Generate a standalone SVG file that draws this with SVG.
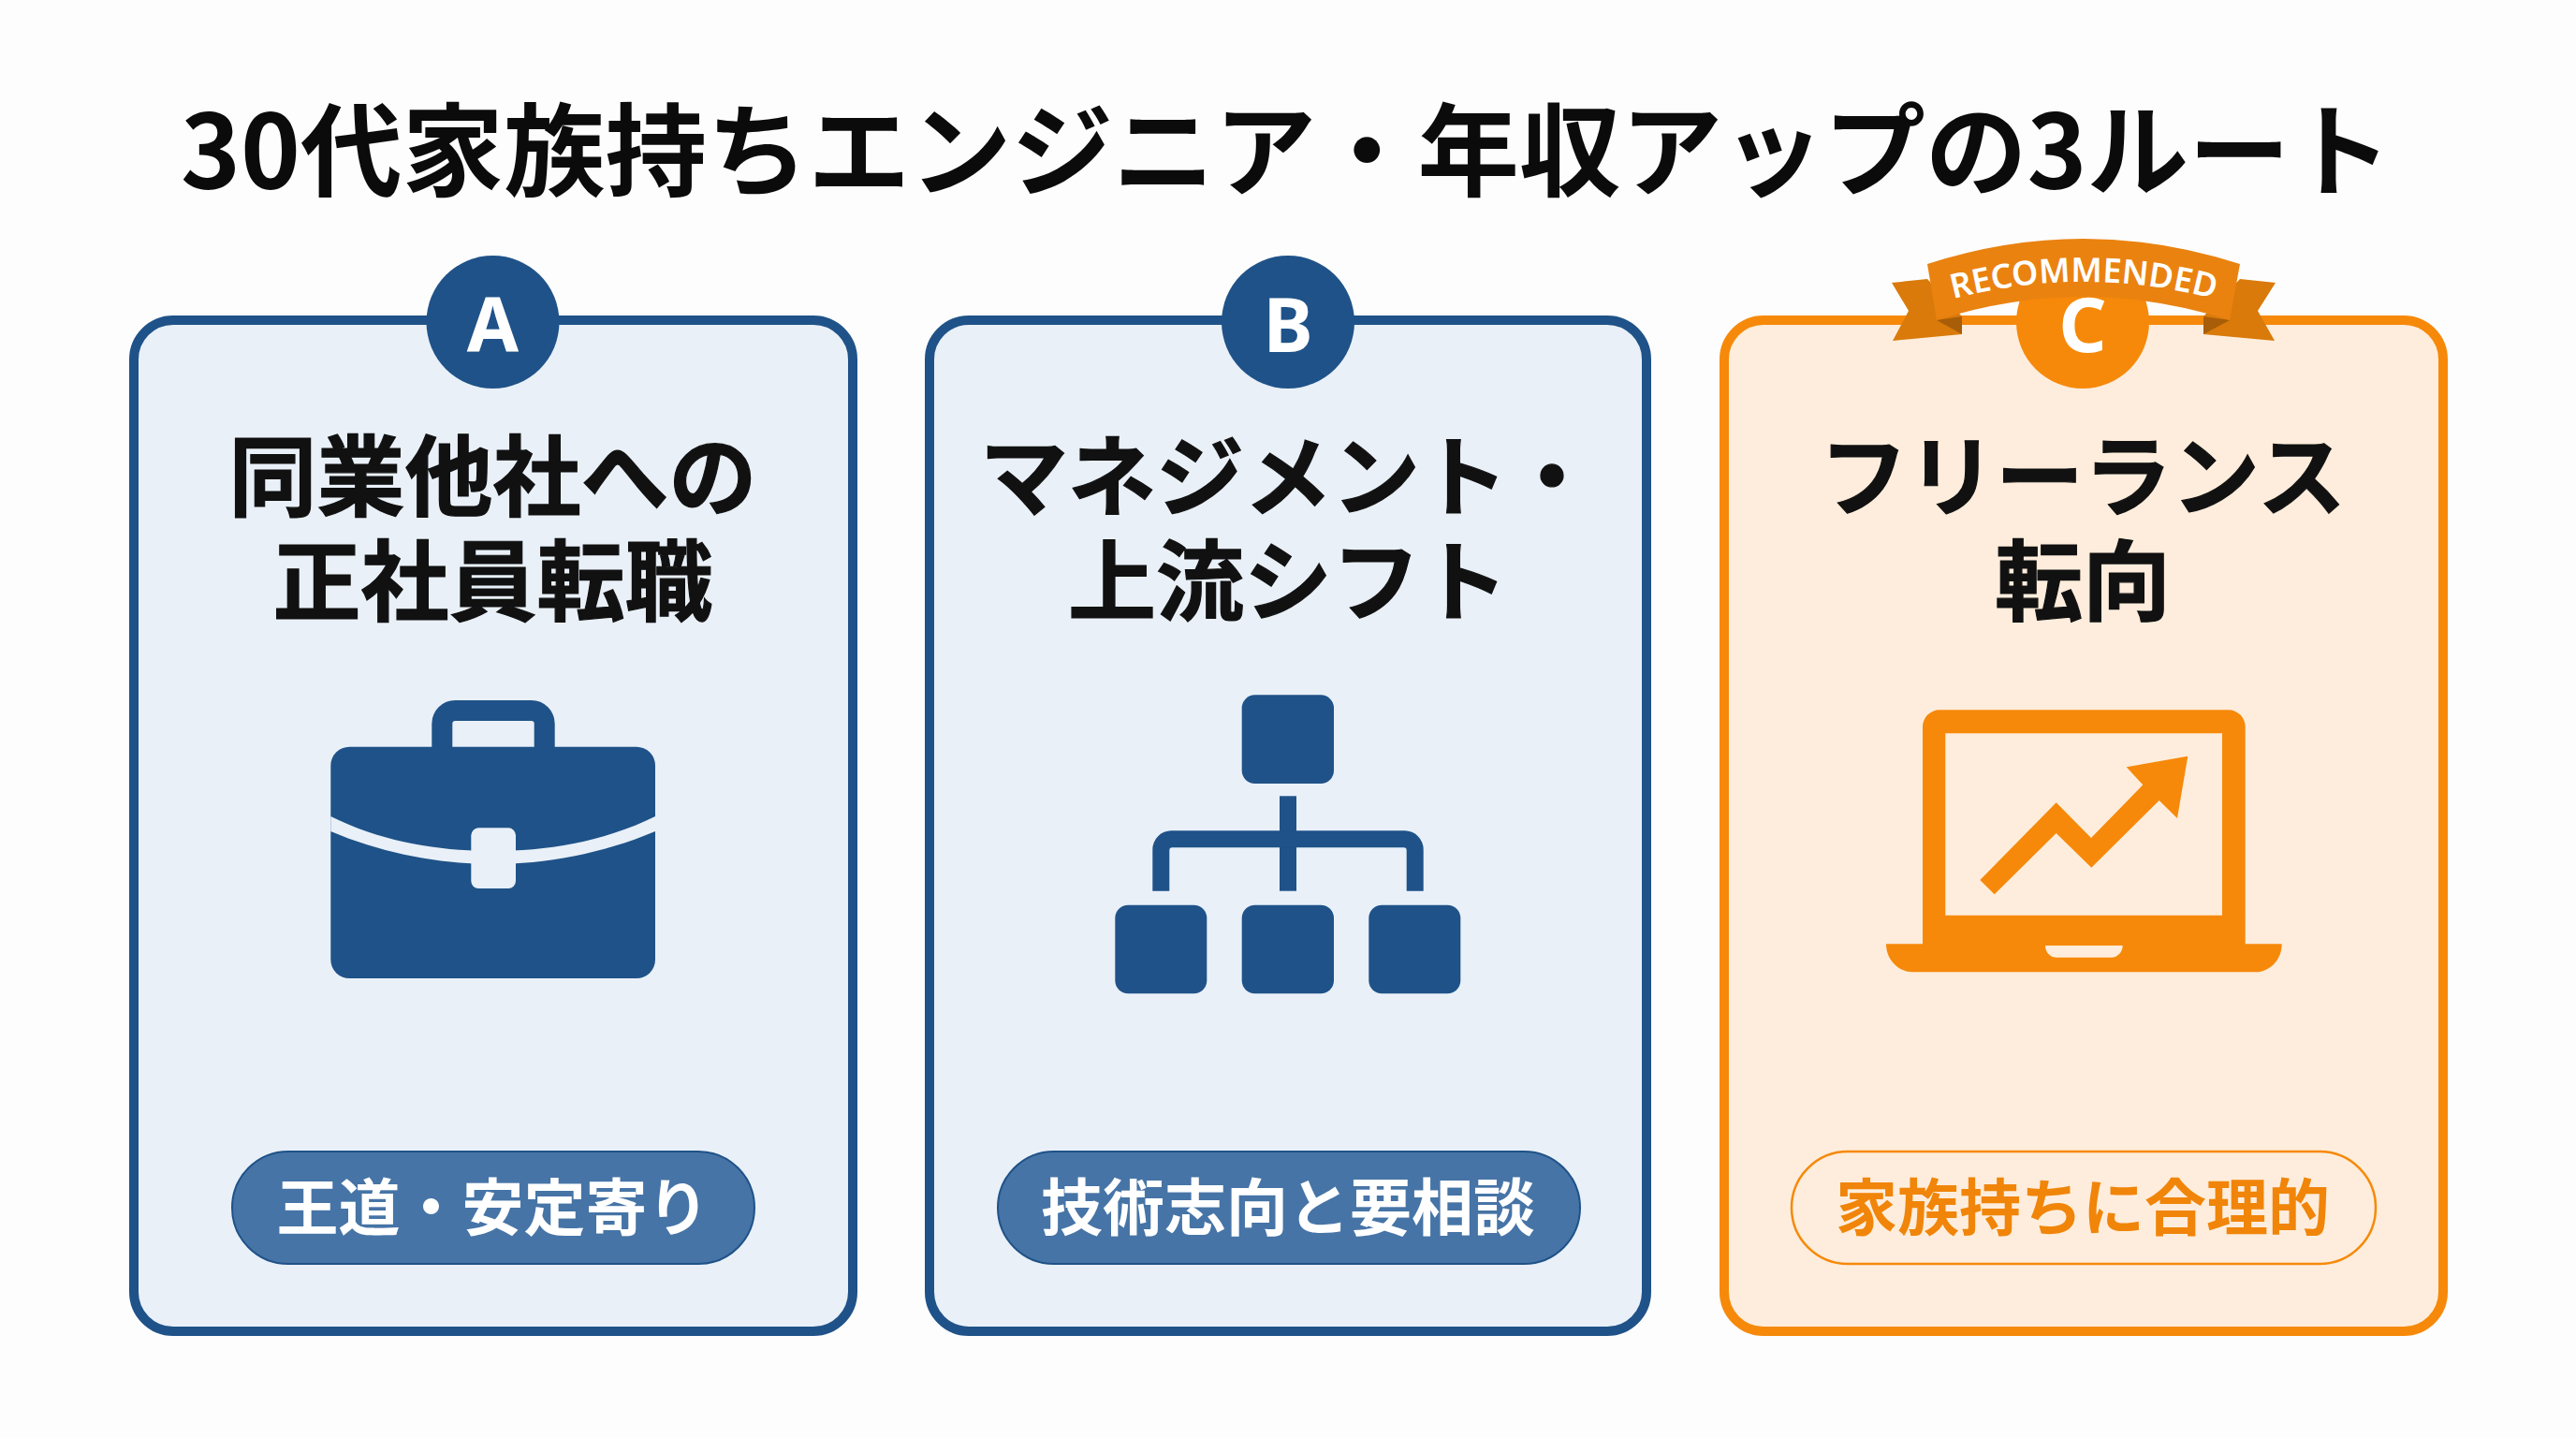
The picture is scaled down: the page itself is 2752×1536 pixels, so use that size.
<svg xmlns="http://www.w3.org/2000/svg" xmlns:xlink="http://www.w3.org/1999/xlink" width="2752" height="1536" viewBox="0 0 2752 1536">
<style>
text{font-family:"Noto Sans CJK JP","Noto Sans",sans-serif;font-weight:700;text-anchor:middle}
.title{font-size:108.500px;fill:#0b0b0b}
.head{font-size:94px;fill:#111;stroke:#111;stroke-width:1.200px}
.tag{font-size:66px;fill:#fff}
.letter{font-family:"Noto Sans",sans-serif;font-size:80px;fill:#fff}
.blue{fill:#1f5288}
.orange{fill:#f6890a}
.cardB{fill:#e9f0f8;stroke:#1f5288;stroke-width:10}
.cardO{fill:#feeddc;stroke:#f6890a;stroke-width:10}
.pill{fill:#4674a6;stroke:#1f5288;stroke-width:2}
</style>
<rect width="2752" height="1536" fill="#fdfdfd"/>
<text class="title" x="1374" y="201">30代家族持ちエンジニア・年収アップの3ルート</text>

<g id="card-a">
<rect class="cardB" x="143" y="342" width="768" height="1080" rx="42"/>
<circle class="blue" cx="526.500" cy="344" r="71"/>
<text class="letter" x="526.500" y="376">A</text>
<text class="head" x="526.500" y="544">同業他社への</text>
<text class="head" x="526.500" y="656">正社員転職</text>
<g id="icon-briefcase">
<rect x="472.300" y="759" width="109.400" height="60" rx="14" fill="none" stroke="#1f5288" stroke-width="22"/>
<rect class="blue" x="353.300" y="797.700" width="346.700" height="247.300" rx="20"/>
<path d="M353.300 872C410 900 470 909 526.500 909S643 900 700 872V888C643 912 583 923 526.500 923S410 912 353.300 888Z" fill="#e9f0f8"/>
<rect x="503.300" y="884.300" width="47.700" height="64.700" rx="8" fill="#e9f0f8"/>
</g>
<rect class="pill" x="248" y="1230" width="558" height="120" rx="60"/>
<text class="tag" x="526.500" y="1314">王道・安定寄り</text>
</g>

<g id="card-b">
<rect class="cardB" x="993" y="342" width="766" height="1080" rx="42"/>
<circle class="blue" cx="1376" cy="344" r="71"/>
<text class="letter" x="1376" y="376">B</text>
<text class="head" x="1376" y="544">マネジメント・</text>
<text class="head" x="1376" y="656">上流シフト</text>
<g id="icon-org">
<rect class="blue" x="1326.700" y="742.300" width="98.300" height="94.700" rx="14"/>
<rect class="blue" x="1367" y="850.300" width="18" height="101.400"/>
<path class="blue" d="M1231.300 951.700V907.300A20 20 0 0 1 1251.300 887.300H1500.700A20 20 0 0 1 1520.700 907.300V951.700H1502.700V908.300A3 3 0 0 0 1499.700 905.300H1252.300A3 3 0 0 0 1249.300 908.300V951.700Z"/>
<rect class="blue" x="1191.300" y="966.700" width="98" height="94.600" rx="14"/>
<rect class="blue" x="1326.700" y="966.700" width="98.300" height="94.600" rx="14"/>
<rect class="blue" x="1462.300" y="966.700" width="98" height="94.600" rx="14"/>
</g>
<rect class="pill" x="1066" y="1230" width="622" height="120" rx="60"/>
<text class="tag" x="1376" y="1314">技術志向と要相談</text>
</g>

<g id="card-c">
<rect class="cardO" x="1842" y="342" width="768" height="1080" rx="42"/>
<circle class="orange" cx="2225" cy="344" r="71"/>
<text class="letter" x="2225" y="376">C</text>
<g id="ribbon">
<path d="M2059 298L2021 302L2039 332L2022 364L2096 357V338Z" fill="#d97a0a"/>
<path d="M2393 298L2431 302L2412 332L2430 364L2354 357V338Z" fill="#d97a0a"/>
<path d="M2069 342L2096 338V357Z" fill="#a85d08"/>
<path d="M2382 342L2354 338V357Z" fill="#a85d08"/>
<path d="M2059 282Q2226 228 2393 282L2382 342Q2226 292 2069 342Z" fill="#ea8210"/>
<path id="ribbon-arc" d="M2076 322Q2226 280 2376 322" fill="none"/>
<text font-size="36" fill="#fff" style="font-family:'Noto Sans',sans-serif;font-weight:600"><textPath xlink:href="#ribbon-arc" href="#ribbon-arc" startOffset="50%">RECOMMENDED</textPath></text>
</g>
<text class="head" x="2225" y="544">フリーランス</text>
<text class="head" x="2225" y="656">転向</text>
<g id="icon-laptop">
<path class="orange" fill-rule="evenodd" d="M2054 1008.300V776.300A18 18 0 0 1 2072 758.300H2380.700A18 18 0 0 1 2398.700 776.300V1008.300H2437.700C2437.700 1026 2424 1038.300 2410 1038.300H2043C2029 1038.300 2015 1026 2015 1008.300ZM2078.300 783.300V977.700H2374V783.300Z"/>
<path d="M2185 1010H2267.700C2267.700 1017 2262 1022.700 2256 1022.700H2197C2190 1022.700 2185 1017 2185 1010Z" fill="#feeddc"/>
<polygon class="orange" points="2115.300,940 2130.700,955.300 2196.700,890 2234.300,926.700 2306.700,855 2326,874 2337.300,807.700 2271.700,819.300 2289.300,838.300 2234,895 2196.700,857.300"/>
</g>
<rect x="1914" y="1230" width="624" height="120" rx="60" fill="#feeddc" stroke="#f6890a" stroke-width="2.500"/>
<text class="tag" x="2225" y="1314" style="fill:#f08509">家族持ちに合理的</text>
</g>
</svg>
